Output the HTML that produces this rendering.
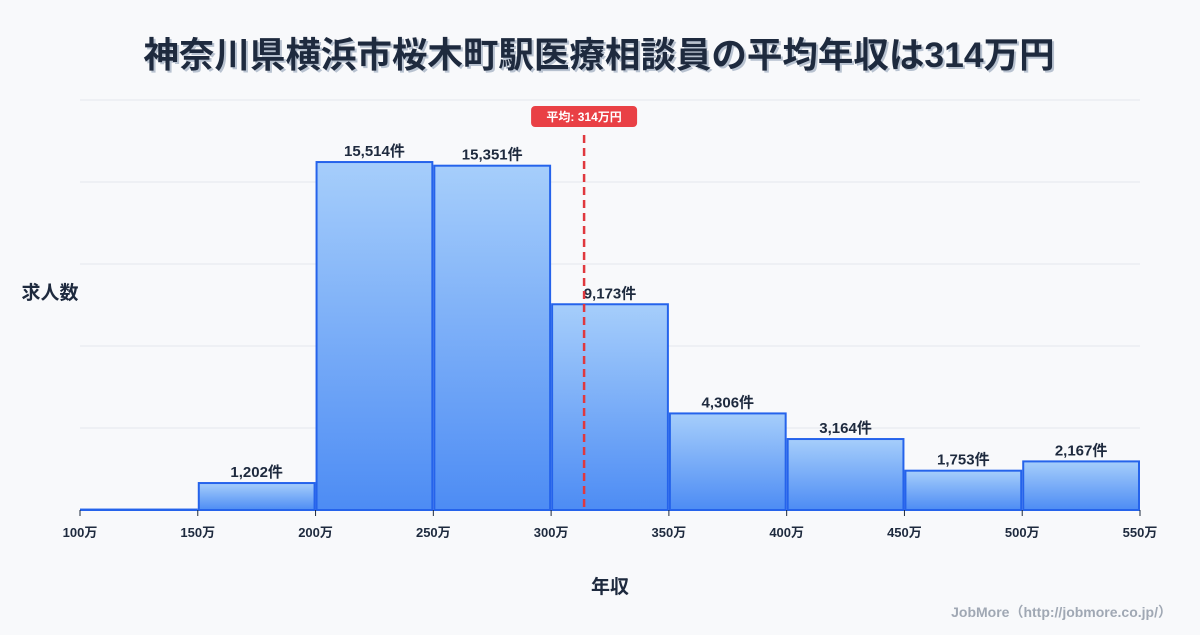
<!DOCTYPE html>
<html><head><meta charset="utf-8"><style>
body{margin:0;background:#f8f9fb;font-family:"Liberation Sans","Noto Sans CJK JP",sans-serif;}
svg text{font-family:"Liberation Sans","Noto Sans CJK JP",sans-serif;}
</style></head><body>
<svg id="c" width="1200" height="630" viewBox="0 0 1200 630">
<defs><linearGradient id="g" x1="0" y1="0" x2="0" y2="1"><stop offset="0" stop-color="#a6cefb"/><stop offset="1" stop-color="#4d8cf4"/></linearGradient></defs>
<text x="601" y="69" text-anchor="middle" font-size="35.5" font-weight="bold" fill="#b8c2d0">神奈川県横浜市桜木町駅医療相談員の平均年収は314万円</text>
<text x="599" y="67" text-anchor="middle" font-size="35.5" font-weight="bold" fill="#1e2a3e">神奈川県横浜市桜木町駅医療相談員の平均年収は314万円</text>
<text x="50" y="299" text-anchor="middle" font-size="19" font-weight="bold" fill="#1e2a3e">求人数</text>
<text x="610" y="593" text-anchor="middle" font-size="19" font-weight="bold" fill="#1e2a3e">年収</text>
<text x="1172" y="617" text-anchor="end" font-size="14" font-weight="bold" fill="#a0a8b4">JobMore（http://jobmore.co.jp/）</text>
<g id="grid"></g><g id="bars"></g><g id="ticks"></g>
</svg>
<script>
const binEdges=[100,150,200,250,300,350,400,450,500,550];
const counts=[20,1202,15514,15351,9173,4306,3164,1753,2167];
const countLabels=["","1,202件","15,514件","15,351件","9,173件","4,306件","3,164件","1,753件","2,167件"];
const tickLabels=["100万","150万","200万","250万","300万","350万","400万","450万","500万","550万"];
const meanValue=314;
const meanLabel="平均: 314万円";
const X0=80,X1=1140,Y0=510,Y1=100,yMax=18280;
const xs=v=>X0+(v-100)/450*(X1-X0);
const ys=v=>Y0-v/yMax*(Y0-Y1);
const NS="http://www.w3.org/2000/svg";
function mk(tag,attrs,parent,txt){const e=document.createElementNS(NS,tag);for(const k in attrs)e.setAttribute(k,attrs[k]);if(txt!==undefined)e.textContent=txt;document.getElementById(parent).appendChild(e);return e;}
for(let i=0;i<=5;i++){const y=Y0-i*(Y0-Y1)/5;
const l=mk('line',{x1:X0,x2:X1,y1:y,y2:y,stroke:'#e3e7ec','stroke-width':1},'grid');

}
counts.forEach((c,i)=>{const a=xs(binEdges[i])+1,b=xs(binEdges[i+1])-1,t=ys(c);
const r=mk('rect',{x:a,y:t,width:b-a,height:Y0-t,fill:'url(#g)',stroke:'#2563eb','stroke-width':2},'bars');


if(countLabels[i]){const tx=mk('text',{x:(a+b)/2,y:t-6,'text-anchor':'middle','font-size':15,'font-weight':'bold',fill:'#1e2a3e'},'bars',countLabels[i]);

}});
binEdges.forEach((v,i)=>{const x=xs(v);
const tk=mk('line',{x1:x,x2:x,y1:Y0,y2:Y0+6,stroke:'#1e2a3e','stroke-width':1},'ticks');


const tl=mk('text',{x:x,y:Y0+27,'text-anchor':'middle','font-size':13,'font-weight':'bold',fill:'#1e2a3e'},'ticks',tickLabels[i]);

});
const mx=xs(meanValue);
const ml=mk('line',{x1:mx,x2:mx,y1:135,y2:Y0,stroke:'#e0383e','stroke-width':2.5,'stroke-dasharray':'8,5'},'ticks');


const mb=mk('rect',{x:mx-53,y:106,width:106,height:21,rx:4,fill:'#e94045'},'ticks');


const mt=mk('text',{x:mx,y:121,'text-anchor':'middle','font-size':12,'font-weight':'bold',fill:'#fff'},'ticks',meanLabel);


</script>
</body></html>
